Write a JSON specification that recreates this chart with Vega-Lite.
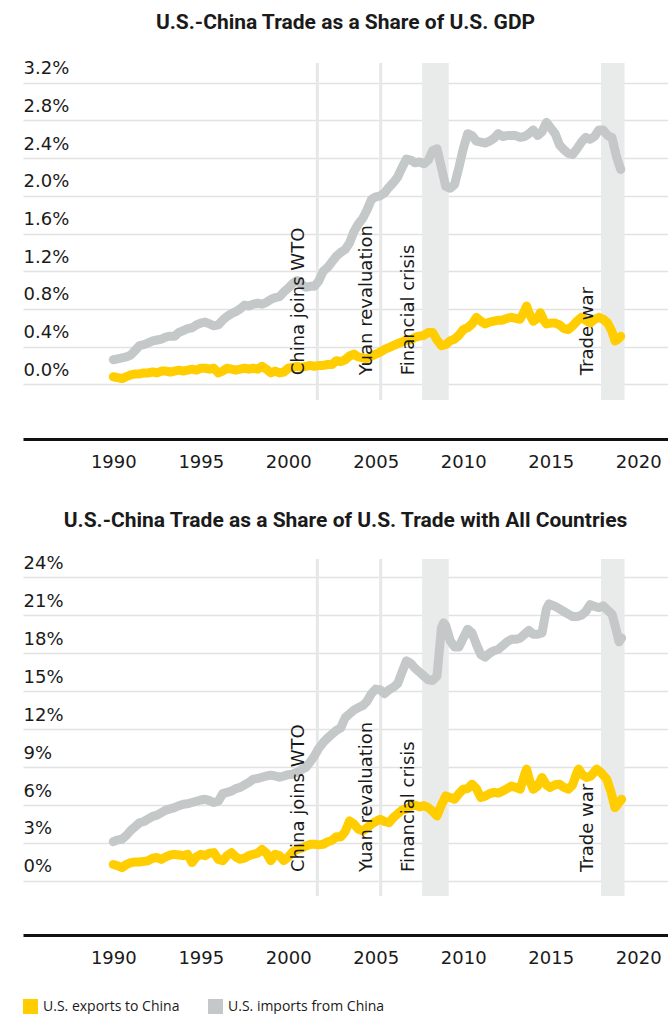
{
  "$schema": "https://vega.github.io/schema/vega-lite/v6.json",
  "padding": {"left": 23, "top": 11, "right": 0, "bottom": 0},
  "background": "white",
  "config": {
    "view": {"stroke": null},
    "axis": {"labelFont": "DejaVu Sans", "labelFontSize": 18, "labelColor": "#1a1a1a"},
    "title": {"font": "Roboto", "fontWeight": "bold", "fontSize": 21, "color": "#1a1a1a", "anchor": "middle"}
  },
  "datasets": {
    "gdp": [
      {"t":1990.0,"s":"imports","v":0.26},{"t":1990.25,"s":"imports","v":0.27},{"t":1990.5,"s":"imports","v":0.28},{"t":1990.75,"s":"imports","v":0.29},
      {"t":1991.0,"s":"imports","v":0.31},{"t":1991.25,"s":"imports","v":0.36},{"t":1991.5,"s":"imports","v":0.41},{"t":1991.75,"s":"imports","v":0.42},
      {"t":1992.0,"s":"imports","v":0.44},{"t":1992.25,"s":"imports","v":0.46},{"t":1992.5,"s":"imports","v":0.47},{"t":1992.75,"s":"imports","v":0.48},
      {"t":1993.0,"s":"imports","v":0.50},{"t":1993.25,"s":"imports","v":0.51},{"t":1993.5,"s":"imports","v":0.51},{"t":1993.75,"s":"imports","v":0.55},
      {"t":1994.0,"s":"imports","v":0.57},{"t":1994.25,"s":"imports","v":0.59},{"t":1994.5,"s":"imports","v":0.60},{"t":1994.75,"s":"imports","v":0.63},
      {"t":1995.0,"s":"imports","v":0.65},{"t":1995.25,"s":"imports","v":0.66},{"t":1995.5,"s":"imports","v":0.64},{"t":1995.75,"s":"imports","v":0.62},
      {"t":1996.0,"s":"imports","v":0.63},{"t":1996.25,"s":"imports","v":0.68},{"t":1996.5,"s":"imports","v":0.72},{"t":1996.75,"s":"imports","v":0.75},
      {"t":1997.0,"s":"imports","v":0.77},{"t":1997.25,"s":"imports","v":0.80},{"t":1997.5,"s":"imports","v":0.84},{"t":1997.75,"s":"imports","v":0.83},
      {"t":1998.0,"s":"imports","v":0.85},{"t":1998.25,"s":"imports","v":0.86},{"t":1998.5,"s":"imports","v":0.85},{"t":1998.75,"s":"imports","v":0.87},
      {"t":1999.0,"s":"imports","v":0.90},{"t":1999.25,"s":"imports","v":0.92},{"t":1999.5,"s":"imports","v":0.93},{"t":1999.75,"s":"imports","v":0.98},
      {"t":2000.0,"s":"imports","v":1.02},{"t":2000.25,"s":"imports","v":1.07},{"t":2000.5,"s":"imports","v":1.10},{"t":2000.75,"s":"imports","v":1.06},
      {"t":2001.0,"s":"imports","v":1.03},{"t":2001.25,"s":"imports","v":1.04},{"t":2001.5,"s":"imports","v":1.04},{"t":2001.75,"s":"imports","v":1.10},
      {"t":2002.0,"s":"imports","v":1.20},{"t":2002.25,"s":"imports","v":1.24},{"t":2002.5,"s":"imports","v":1.30},{"t":2002.75,"s":"imports","v":1.36},
      {"t":2003.0,"s":"imports","v":1.40},{"t":2003.25,"s":"imports","v":1.43},{"t":2003.5,"s":"imports","v":1.50},{"t":2003.75,"s":"imports","v":1.62},
      {"t":2004.0,"s":"imports","v":1.70},{"t":2004.25,"s":"imports","v":1.76},{"t":2004.5,"s":"imports","v":1.85},{"t":2004.75,"s":"imports","v":1.96},
      {"t":2005.0,"s":"imports","v":1.99},{"t":2005.25,"s":"imports","v":2.00},{"t":2005.5,"s":"imports","v":2.03},{"t":2005.75,"s":"imports","v":2.09},
      {"t":2006.0,"s":"imports","v":2.14},{"t":2006.25,"s":"imports","v":2.20},{"t":2006.5,"s":"imports","v":2.30},{"t":2006.75,"s":"imports","v":2.39},
      {"t":2007.0,"s":"imports","v":2.38},{"t":2007.25,"s":"imports","v":2.35},{"t":2007.5,"s":"imports","v":2.36},{"t":2007.75,"s":"imports","v":2.34},
      {"t":2008.0,"s":"imports","v":2.38},{"t":2008.25,"s":"imports","v":2.48},{"t":2008.5,"s":"imports","v":2.50},{"t":2008.75,"s":"imports","v":2.30},
      {"t":2009.0,"s":"imports","v":2.10},{"t":2009.25,"s":"imports","v":2.08},{"t":2009.5,"s":"imports","v":2.12},{"t":2009.75,"s":"imports","v":2.30},
      {"t":2010.0,"s":"imports","v":2.50},{"t":2010.25,"s":"imports","v":2.66},{"t":2010.5,"s":"imports","v":2.64},{"t":2010.75,"s":"imports","v":2.58},
      {"t":2011.0,"s":"imports","v":2.57},{"t":2011.25,"s":"imports","v":2.56},{"t":2011.5,"s":"imports","v":2.58},{"t":2011.75,"s":"imports","v":2.61},
      {"t":2012.0,"s":"imports","v":2.66},{"t":2012.25,"s":"imports","v":2.63},{"t":2012.5,"s":"imports","v":2.64},{"t":2012.75,"s":"imports","v":2.64},
      {"t":2013.0,"s":"imports","v":2.64},{"t":2013.25,"s":"imports","v":2.62},{"t":2013.5,"s":"imports","v":2.63},{"t":2013.75,"s":"imports","v":2.66},
      {"t":2014.0,"s":"imports","v":2.70},{"t":2014.25,"s":"imports","v":2.64},{"t":2014.5,"s":"imports","v":2.68},{"t":2014.75,"s":"imports","v":2.78},
      {"t":2015.0,"s":"imports","v":2.72},{"t":2015.25,"s":"imports","v":2.66},{"t":2015.5,"s":"imports","v":2.54},{"t":2015.75,"s":"imports","v":2.49},
      {"t":2016.0,"s":"imports","v":2.45},{"t":2016.25,"s":"imports","v":2.44},{"t":2016.5,"s":"imports","v":2.50},{"t":2016.75,"s":"imports","v":2.57},
      {"t":2017.0,"s":"imports","v":2.62},{"t":2017.25,"s":"imports","v":2.60},{"t":2017.5,"s":"imports","v":2.63},{"t":2017.75,"s":"imports","v":2.70},
      {"t":2018.0,"s":"imports","v":2.70},{"t":2018.25,"s":"imports","v":2.64},{"t":2018.5,"s":"imports","v":2.62},{"t":2018.75,"s":"imports","v":2.42},
      {"t":2019.0,"s":"imports","v":2.28},
      {"t":1990.0,"s":"exports","v":0.08},{"t":1990.25,"s":"exports","v":0.07},{"t":1990.5,"s":"exports","v":0.06},{"t":1990.75,"s":"exports","v":0.08},
      {"t":1991.0,"s":"exports","v":0.10},{"t":1991.25,"s":"exports","v":0.11},{"t":1991.5,"s":"exports","v":0.11},{"t":1991.75,"s":"exports","v":0.12},
      {"t":1992.0,"s":"exports","v":0.12},{"t":1992.25,"s":"exports","v":0.13},{"t":1992.5,"s":"exports","v":0.12},{"t":1992.75,"s":"exports","v":0.14},
      {"t":1993.0,"s":"exports","v":0.14},{"t":1993.25,"s":"exports","v":0.13},{"t":1993.5,"s":"exports","v":0.14},{"t":1993.75,"s":"exports","v":0.15},
      {"t":1994.0,"s":"exports","v":0.14},{"t":1994.25,"s":"exports","v":0.15},{"t":1994.5,"s":"exports","v":0.16},{"t":1994.75,"s":"exports","v":0.15},
      {"t":1995.0,"s":"exports","v":0.17},{"t":1995.25,"s":"exports","v":0.17},{"t":1995.5,"s":"exports","v":0.16},{"t":1995.75,"s":"exports","v":0.17},
      {"t":1996.0,"s":"exports","v":0.12},{"t":1996.25,"s":"exports","v":0.14},{"t":1996.5,"s":"exports","v":0.17},{"t":1996.75,"s":"exports","v":0.16},
      {"t":1997.0,"s":"exports","v":0.15},{"t":1997.25,"s":"exports","v":0.16},{"t":1997.5,"s":"exports","v":0.17},{"t":1997.75,"s":"exports","v":0.16},
      {"t":1998.0,"s":"exports","v":0.17},{"t":1998.25,"s":"exports","v":0.16},{"t":1998.5,"s":"exports","v":0.19},{"t":1998.75,"s":"exports","v":0.16},
      {"t":1999.0,"s":"exports","v":0.12},{"t":1999.25,"s":"exports","v":0.14},{"t":1999.5,"s":"exports","v":0.12},{"t":1999.75,"s":"exports","v":0.13},
      {"t":2000.0,"s":"exports","v":0.17},{"t":2000.25,"s":"exports","v":0.18},{"t":2000.5,"s":"exports","v":0.19},{"t":2000.75,"s":"exports","v":0.18},
      {"t":2001.0,"s":"exports","v":0.19},{"t":2001.25,"s":"exports","v":0.20},{"t":2001.5,"s":"exports","v":0.19},{"t":2001.75,"s":"exports","v":0.20},
      {"t":2002.0,"s":"exports","v":0.20},{"t":2002.25,"s":"exports","v":0.21},{"t":2002.5,"s":"exports","v":0.21},{"t":2002.75,"s":"exports","v":0.25},
      {"t":2003.0,"s":"exports","v":0.24},{"t":2003.25,"s":"exports","v":0.26},{"t":2003.5,"s":"exports","v":0.30},{"t":2003.75,"s":"exports","v":0.32},
      {"t":2004.0,"s":"exports","v":0.29},{"t":2004.25,"s":"exports","v":0.28},{"t":2004.5,"s":"exports","v":0.27},{"t":2004.75,"s":"exports","v":0.30},
      {"t":2005.0,"s":"exports","v":0.32},{"t":2005.25,"s":"exports","v":0.34},{"t":2005.5,"s":"exports","v":0.37},{"t":2005.75,"s":"exports","v":0.39},
      {"t":2006.0,"s":"exports","v":0.41},{"t":2006.25,"s":"exports","v":0.43},{"t":2006.5,"s":"exports","v":0.45},{"t":2006.75,"s":"exports","v":0.47},
      {"t":2007.0,"s":"exports","v":0.47},{"t":2007.25,"s":"exports","v":0.50},{"t":2007.5,"s":"exports","v":0.51},{"t":2007.75,"s":"exports","v":0.52},
      {"t":2008.0,"s":"exports","v":0.55},{"t":2008.25,"s":"exports","v":0.55},{"t":2008.5,"s":"exports","v":0.47},{"t":2008.75,"s":"exports","v":0.41},
      {"t":2009.0,"s":"exports","v":0.42},{"t":2009.25,"s":"exports","v":0.46},{"t":2009.5,"s":"exports","v":0.48},{"t":2009.75,"s":"exports","v":0.52},
      {"t":2010.0,"s":"exports","v":0.58},{"t":2010.25,"s":"exports","v":0.60},{"t":2010.5,"s":"exports","v":0.64},{"t":2010.75,"s":"exports","v":0.71},
      {"t":2011.0,"s":"exports","v":0.67},{"t":2011.25,"s":"exports","v":0.64},{"t":2011.5,"s":"exports","v":0.66},{"t":2011.75,"s":"exports","v":0.67},
      {"t":2012.0,"s":"exports","v":0.68},{"t":2012.25,"s":"exports","v":0.68},{"t":2012.5,"s":"exports","v":0.70},{"t":2012.75,"s":"exports","v":0.71},
      {"t":2013.0,"s":"exports","v":0.70},{"t":2013.25,"s":"exports","v":0.69},{"t":2013.5,"s":"exports","v":0.78},{"t":2013.62,"s":"exports","v":0.83},
      {"t":2013.75,"s":"exports","v":0.76},{"t":2014.0,"s":"exports","v":0.67},{"t":2014.25,"s":"exports","v":0.70},{"t":2014.4,"s":"exports","v":0.76},
      {"t":2014.6,"s":"exports","v":0.68},{"t":2014.75,"s":"exports","v":0.64},{"t":2015.0,"s":"exports","v":0.65},{"t":2015.25,"s":"exports","v":0.65},
      {"t":2015.5,"s":"exports","v":0.63},{"t":2015.75,"s":"exports","v":0.59},{"t":2016.0,"s":"exports","v":0.58},{"t":2016.25,"s":"exports","v":0.62},
      {"t":2016.5,"s":"exports","v":0.67},{"t":2016.75,"s":"exports","v":0.71},{"t":2017.0,"s":"exports","v":0.68},{"t":2017.25,"s":"exports","v":0.65},
      {"t":2017.5,"s":"exports","v":0.69},{"t":2017.75,"s":"exports","v":0.71},{"t":2018.0,"s":"exports","v":0.69},{"t":2018.25,"s":"exports","v":0.65},
      {"t":2018.5,"s":"exports","v":0.56},{"t":2018.67,"s":"exports","v":0.46},{"t":2018.85,"s":"exports","v":0.48},{"t":2019.0,"s":"exports","v":0.51}
    ],
    "trade": [
      {"t":1990.0,"s":"imports","v":3.1},{"t":1990.25,"s":"imports","v":3.25},{"t":1990.5,"s":"imports","v":3.3},{"t":1990.75,"s":"imports","v":3.6},
      {"t":1991.0,"s":"imports","v":4.0},{"t":1991.25,"s":"imports","v":4.3},{"t":1991.5,"s":"imports","v":4.6},{"t":1991.75,"s":"imports","v":4.7},
      {"t":1992.0,"s":"imports","v":4.9},{"t":1992.25,"s":"imports","v":5.1},{"t":1992.5,"s":"imports","v":5.2},{"t":1992.75,"s":"imports","v":5.4},
      {"t":1993.0,"s":"imports","v":5.6},{"t":1993.25,"s":"imports","v":5.7},{"t":1993.5,"s":"imports","v":5.8},{"t":1993.75,"s":"imports","v":5.95},
      {"t":1994.0,"s":"imports","v":6.07},{"t":1994.25,"s":"imports","v":6.1},{"t":1994.5,"s":"imports","v":6.2},{"t":1994.75,"s":"imports","v":6.3},
      {"t":1995.0,"s":"imports","v":6.4},{"t":1995.25,"s":"imports","v":6.46},{"t":1995.5,"s":"imports","v":6.35},{"t":1995.75,"s":"imports","v":6.2},
      {"t":1996.0,"s":"imports","v":6.3},{"t":1996.25,"s":"imports","v":6.9},{"t":1996.5,"s":"imports","v":7.0},{"t":1996.75,"s":"imports","v":7.1},
      {"t":1997.0,"s":"imports","v":7.3},{"t":1997.25,"s":"imports","v":7.4},{"t":1997.5,"s":"imports","v":7.6},{"t":1997.75,"s":"imports","v":7.8},
      {"t":1998.0,"s":"imports","v":8.05},{"t":1998.25,"s":"imports","v":8.1},{"t":1998.5,"s":"imports","v":8.2},{"t":1998.75,"s":"imports","v":8.3},
      {"t":1999.0,"s":"imports","v":8.36},{"t":1999.25,"s":"imports","v":8.3},{"t":1999.5,"s":"imports","v":8.2},{"t":1999.75,"s":"imports","v":8.3},
      {"t":2000.0,"s":"imports","v":8.4},{"t":2000.25,"s":"imports","v":8.44},{"t":2000.5,"s":"imports","v":8.6},{"t":2000.75,"s":"imports","v":8.8},
      {"t":2001.0,"s":"imports","v":8.97},{"t":2001.25,"s":"imports","v":9.4},{"t":2001.5,"s":"imports","v":9.9},{"t":2001.75,"s":"imports","v":10.5},
      {"t":2002.0,"s":"imports","v":10.95},{"t":2002.25,"s":"imports","v":11.3},{"t":2002.5,"s":"imports","v":11.6},{"t":2002.75,"s":"imports","v":11.9},
      {"t":2003.0,"s":"imports","v":12.1},{"t":2003.25,"s":"imports","v":12.9},{"t":2003.5,"s":"imports","v":13.2},{"t":2003.75,"s":"imports","v":13.5},
      {"t":2004.0,"s":"imports","v":13.7},{"t":2004.25,"s":"imports","v":13.85},{"t":2004.5,"s":"imports","v":14.2},{"t":2004.75,"s":"imports","v":14.8},
      {"t":2005.0,"s":"imports","v":15.17},{"t":2005.25,"s":"imports","v":15.1},{"t":2005.5,"s":"imports","v":14.8},{"t":2005.75,"s":"imports","v":15.1},
      {"t":2006.0,"s":"imports","v":15.3},{"t":2006.25,"s":"imports","v":15.6},{"t":2006.5,"s":"imports","v":16.5},{"t":2006.75,"s":"imports","v":17.4},
      {"t":2007.0,"s":"imports","v":17.2},{"t":2007.25,"s":"imports","v":16.8},{"t":2007.5,"s":"imports","v":16.5},{"t":2007.75,"s":"imports","v":16.2},
      {"t":2008.0,"s":"imports","v":15.9},{"t":2008.25,"s":"imports","v":15.85},{"t":2008.5,"s":"imports","v":16.2},{"t":2008.75,"s":"imports","v":20.0},
      {"t":2008.87,"s":"imports","v":20.4},{"t":2009.0,"s":"imports","v":20.2},{"t":2009.25,"s":"imports","v":19.0},{"t":2009.5,"s":"imports","v":18.5},
      {"t":2009.75,"s":"imports","v":18.5},{"t":2010.0,"s":"imports","v":19.2},{"t":2010.25,"s":"imports","v":19.9},{"t":2010.5,"s":"imports","v":19.6},
      {"t":2010.75,"s":"imports","v":18.7},{"t":2011.0,"s":"imports","v":17.9},{"t":2011.25,"s":"imports","v":17.7},{"t":2011.5,"s":"imports","v":18.0},
      {"t":2011.75,"s":"imports","v":18.2},{"t":2012.0,"s":"imports","v":18.3},{"t":2012.25,"s":"imports","v":18.6},{"t":2012.5,"s":"imports","v":18.9},
      {"t":2012.75,"s":"imports","v":19.1},{"t":2013.0,"s":"imports","v":19.1},{"t":2013.25,"s":"imports","v":19.2},{"t":2013.5,"s":"imports","v":19.5},
      {"t":2013.75,"s":"imports","v":19.8},{"t":2014.0,"s":"imports","v":19.5},{"t":2014.25,"s":"imports","v":19.5},{"t":2014.5,"s":"imports","v":19.6},
      {"t":2014.75,"s":"imports","v":21.5},{"t":2014.9,"s":"imports","v":21.9},{"t":2015.25,"s":"imports","v":21.7},{"t":2015.5,"s":"imports","v":21.5},
      {"t":2015.75,"s":"imports","v":21.3},{"t":2016.0,"s":"imports","v":21.1},{"t":2016.25,"s":"imports","v":20.9},{"t":2016.5,"s":"imports","v":20.9},
      {"t":2016.75,"s":"imports","v":21.0},{"t":2017.0,"s":"imports","v":21.3},{"t":2017.25,"s":"imports","v":21.85},{"t":2017.5,"s":"imports","v":21.7},
      {"t":2017.75,"s":"imports","v":21.6},{"t":2018.0,"s":"imports","v":21.75},{"t":2018.25,"s":"imports","v":21.4},{"t":2018.5,"s":"imports","v":21.1},
      {"t":2018.75,"s":"imports","v":19.8},{"t":2018.9,"s":"imports","v":18.9},{"t":2019.05,"s":"imports","v":19.2},
      {"t":1990.0,"s":"exports","v":1.3},{"t":1990.25,"s":"exports","v":1.2},{"t":1990.5,"s":"exports","v":1.05},{"t":1990.75,"s":"exports","v":1.3},
      {"t":1991.0,"s":"exports","v":1.45},{"t":1991.25,"s":"exports","v":1.5},{"t":1991.5,"s":"exports","v":1.5},{"t":1991.75,"s":"exports","v":1.55},
      {"t":1992.0,"s":"exports","v":1.6},{"t":1992.25,"s":"exports","v":1.8},{"t":1992.5,"s":"exports","v":1.85},{"t":1992.75,"s":"exports","v":1.7},
      {"t":1993.0,"s":"exports","v":1.9},{"t":1993.25,"s":"exports","v":2.05},{"t":1993.5,"s":"exports","v":2.1},{"t":1993.75,"s":"exports","v":2.05},
      {"t":1994.0,"s":"exports","v":2.0},{"t":1994.25,"s":"exports","v":2.1},{"t":1994.5,"s":"exports","v":1.45},{"t":1994.75,"s":"exports","v":1.9},
      {"t":1995.0,"s":"exports","v":2.1},{"t":1995.25,"s":"exports","v":2.0},{"t":1995.5,"s":"exports","v":2.2},{"t":1995.75,"s":"exports","v":2.24},
      {"t":1996.0,"s":"exports","v":1.7},{"t":1996.25,"s":"exports","v":1.6},{"t":1996.5,"s":"exports","v":2.0},{"t":1996.75,"s":"exports","v":2.24},
      {"t":1997.0,"s":"exports","v":1.9},{"t":1997.25,"s":"exports","v":1.72},{"t":1997.5,"s":"exports","v":1.8},{"t":1997.75,"s":"exports","v":2.0},
      {"t":1998.0,"s":"exports","v":2.1},{"t":1998.25,"s":"exports","v":2.2},{"t":1998.5,"s":"exports","v":2.5},{"t":1998.75,"s":"exports","v":2.2},
      {"t":1999.0,"s":"exports","v":1.6},{"t":1999.25,"s":"exports","v":2.1},{"t":1999.5,"s":"exports","v":2.0},{"t":1999.75,"s":"exports","v":1.6},
      {"t":2000.0,"s":"exports","v":1.9},{"t":2000.25,"s":"exports","v":2.3},{"t":2000.5,"s":"exports","v":2.5},{"t":2000.75,"s":"exports","v":2.6},
      {"t":2001.0,"s":"exports","v":2.75},{"t":2001.25,"s":"exports","v":2.9},{"t":2001.5,"s":"exports","v":2.9},{"t":2001.75,"s":"exports","v":2.85},
      {"t":2002.0,"s":"exports","v":2.9},{"t":2002.25,"s":"exports","v":3.1},{"t":2002.5,"s":"exports","v":3.2},{"t":2002.75,"s":"exports","v":3.5},
      {"t":2003.0,"s":"exports","v":3.48},{"t":2003.25,"s":"exports","v":3.9},{"t":2003.5,"s":"exports","v":4.75},{"t":2003.75,"s":"exports","v":4.5},
      {"t":2004.0,"s":"exports","v":4.1},{"t":2004.25,"s":"exports","v":3.96},{"t":2004.5,"s":"exports","v":4.2},{"t":2004.75,"s":"exports","v":4.5},
      {"t":2005.0,"s":"exports","v":4.7},{"t":2005.25,"s":"exports","v":4.88},{"t":2005.5,"s":"exports","v":4.7},{"t":2005.75,"s":"exports","v":4.6},
      {"t":2006.0,"s":"exports","v":5.0},{"t":2006.25,"s":"exports","v":5.3},{"t":2006.5,"s":"exports","v":5.6},{"t":2006.75,"s":"exports","v":5.7},
      {"t":2007.0,"s":"exports","v":5.9},{"t":2007.25,"s":"exports","v":5.99},{"t":2007.5,"s":"exports","v":5.85},{"t":2007.75,"s":"exports","v":5.95},
      {"t":2008.0,"s":"exports","v":5.8},{"t":2008.25,"s":"exports","v":5.5},{"t":2008.5,"s":"exports","v":5.14},{"t":2008.75,"s":"exports","v":6.0},
      {"t":2009.0,"s":"exports","v":6.72},{"t":2009.25,"s":"exports","v":6.6},{"t":2009.5,"s":"exports","v":6.46},{"t":2009.75,"s":"exports","v":6.9},
      {"t":2010.0,"s":"exports","v":7.25},{"t":2010.25,"s":"exports","v":7.3},{"t":2010.5,"s":"exports","v":7.65},{"t":2010.75,"s":"exports","v":7.3},
      {"t":2011.0,"s":"exports","v":6.6},{"t":2011.25,"s":"exports","v":6.7},{"t":2011.5,"s":"exports","v":6.9},{"t":2011.75,"s":"exports","v":7.0},
      {"t":2012.0,"s":"exports","v":6.95},{"t":2012.25,"s":"exports","v":7.1},{"t":2012.5,"s":"exports","v":7.3},{"t":2012.75,"s":"exports","v":7.5},
      {"t":2013.0,"s":"exports","v":7.4},{"t":2013.25,"s":"exports","v":7.25},{"t":2013.5,"s":"exports","v":8.4},{"t":2013.62,"s":"exports","v":8.84},
      {"t":2013.8,"s":"exports","v":7.9},{"t":2014.0,"s":"exports","v":7.25},{"t":2014.25,"s":"exports","v":7.5},{"t":2014.5,"s":"exports","v":8.18},
      {"t":2014.75,"s":"exports","v":7.6},{"t":2014.95,"s":"exports","v":7.39},{"t":2015.25,"s":"exports","v":7.6},{"t":2015.5,"s":"exports","v":7.65},
      {"t":2015.75,"s":"exports","v":7.4},{"t":2016.0,"s":"exports","v":7.25},{"t":2016.25,"s":"exports","v":7.6},{"t":2016.5,"s":"exports","v":8.6},
      {"t":2016.6,"s":"exports","v":8.84},{"t":2016.8,"s":"exports","v":8.4},{"t":2017.05,"s":"exports","v":8.18},{"t":2017.3,"s":"exports","v":8.3},
      {"t":2017.62,"s":"exports","v":8.84},{"t":2017.85,"s":"exports","v":8.6},{"t":2018.2,"s":"exports","v":8.05},{"t":2018.45,"s":"exports","v":7.0},
      {"t":2018.67,"s":"exports","v":5.8},{"t":2018.85,"s":"exports","v":6.1},{"t":2019.05,"s":"exports","v":6.46}
    ],
    "rules": [
      {"name": "China joins WTO", "t": 2001.66},
      {"name": "Yuan revaluation", "t": 2005.28}
    ],
    "shades": [
      {"name": "Financial crisis", "t0": 2007.65, "t1": 2009.17},
      {"name": "Trade war", "t0": 2017.87, "t1": 2019.22}
    ],
    "labels": [
      {"name": "China joins WTO", "lx": 2000.87},
      {"name": "Yuan revaluation", "lx": 2004.77},
      {"name": "Financial crisis", "lx": 2007.18},
      {"name": "Trade war", "lx": 2017.43}
    ]
  },
  "vconcat": [
    {
      "title": {"text": "U.S.-China Trade as a Share of U.S. GDP", "offset": 27},
      "width": 645,
      "height": 337,
      "layer": [
        {
          "data": {"name": "shades"},
          "mark": {"type": "rect", "color": "#E9EBEB"},
          "encoding": {
            "x": {"field": "t0", "type": "quantitative", "scale": {"domain": [1984.84, 2021.7], "nice": false, "zero": false}},
            "x2": {"field": "t1"}
          }
        },
        {
          "data": {"name": "rules"},
          "mark": {"type": "rule", "color": "#E6E8E8", "strokeWidth": 3},
          "encoding": {"x": {"field": "t", "type": "quantitative"}}
        },
        {
          "data": {"name": "gdp"},
          "mark": {"type": "line", "strokeWidth": 9, "strokeCap": "round", "strokeJoin": "round"},
          "encoding": {
            "x": {"field": "t", "type": "quantitative",
                  "axis": {"orient": "bottom", "offset": 39, "domainColor": "#111", "domainWidth": 3, "ticks": false, "grid": false, "values": [1990,1995,2000,2005,2010,2015,2020], "format": "d", "labelPadding": 14, "title": null, "labelFlush": false}},
            "y": {"field": "v", "type": "quantitative",
                  "scale": {"domain": [-0.167, 3.41], "nice": false, "zero": false},
                  "axis": {"orient": "left", "values": [0,0.4,0.8,1.2,1.6,2.0,2.4,2.8,3.2], "labelExpr": "format(datum.value, '.1f') + '%'", "grid": true, "gridColor": "#E2E2E2", "gridWidth": 1.5, "domain": false, "ticks": false, "tickSize": 0, "labelAlign": "left", "labelBaseline": "middle", "labelPadding": 0, "labelOffset": -14, "title": null, "labelFlush": false}},
            "color": {"field": "s", "type": "nominal",
                      "scale": {"domain": ["exports", "imports"], "range": ["#FFCD00", "#C5C8C8"]}},
            "order": {"field": "t", "type": "quantitative"}
          }
        },
        {
          "data": {"name": "labels"},
          "mark": {"type": "text", "angle": 270, "align": "left", "baseline": "alphabetic", "font": "DejaVu Sans", "fontSize": 18, "color": "#1a1a1a"},
          "encoding": {
            "x": {"field": "lx", "type": "quantitative"},
            "y": {"datum": 0.095},
            "text": {"field": "name"}
          }
        }
      ]
    },
    {
      "title": {"text": "U.S.-China Trade as a Share of U.S. Trade with All Countries", "offset": 23},
      "width": 645,
      "height": 337,
      "layer": [
        {
          "data": {"name": "shades"},
          "mark": {"type": "rect", "color": "#E9EBEB"},
          "encoding": {
            "x": {"field": "t0", "type": "quantitative", "scale": {"domain": [1984.84, 2021.7], "nice": false, "zero": false}},
            "x2": {"field": "t1"}
          }
        },
        {
          "data": {"name": "rules"},
          "mark": {"type": "rule", "color": "#E6E8E8", "strokeWidth": 3},
          "encoding": {"x": {"field": "t", "type": "quantitative"}}
        },
        {
          "data": {"name": "trade"},
          "mark": {"type": "line", "strokeWidth": 9, "strokeCap": "round", "strokeJoin": "round"},
          "encoding": {
            "x": {"field": "t", "type": "quantitative",
                  "axis": {"orient": "bottom", "offset": 39, "domainColor": "#111", "domainWidth": 3, "ticks": false, "grid": false, "values": [1990,1995,2000,2005,2010,2015,2020], "format": "d", "labelPadding": 14, "title": null, "labelFlush": false}},
            "y": {"field": "v", "type": "quantitative",
                  "scale": {"domain": [-1.19, 25.45], "nice": false, "zero": false},
                  "axis": {"orient": "left", "values": [0,3,6,9,12,15,18,21,24], "labelExpr": "format(datum.value, 'd') + '%'", "grid": true, "gridColor": "#E2E2E2", "gridWidth": 1.5, "domain": false, "ticks": false, "tickSize": 0, "labelAlign": "left", "labelBaseline": "middle", "labelPadding": 0, "labelOffset": -14, "title": null, "labelFlush": false}},
            "color": {"field": "s", "type": "nominal",
                      "scale": {"domain": ["exports", "imports"], "range": ["#FFCD00", "#C5C8C8"]},
                      "legend": {"orient": "bottom", "direction": "horizontal", "title": null, "symbolType": "square", "symbolSize": 225, "labelFont": "Open Sans", "labelFontSize": 14, "labelColor": "#1a1a1a", "labelOffset": 5, "columnPadding": 28, "offset": 32,
                                 "labelExpr": "datum.value == 'exports' ? 'U.S. exports to China' : 'U.S. imports from China'",
                                 "encode": {"symbols": {"update": {"fill": {"scale": "color", "field": "value"}, "strokeWidth": {"value": 0}}}}}},
            "order": {"field": "t", "type": "quantitative"}
          }
        },
        {
          "data": {"name": "labels"},
          "mark": {"type": "text", "angle": 270, "align": "left", "baseline": "alphabetic", "font": "DejaVu Sans", "fontSize": 18, "color": "#1a1a1a"},
          "encoding": {
            "x": {"field": "lx", "type": "quantitative"},
            "y": {"datum": 0.71},
            "text": {"field": "name"}
          }
        }
      ]
    }
  ],
  "spacing": 39
}
